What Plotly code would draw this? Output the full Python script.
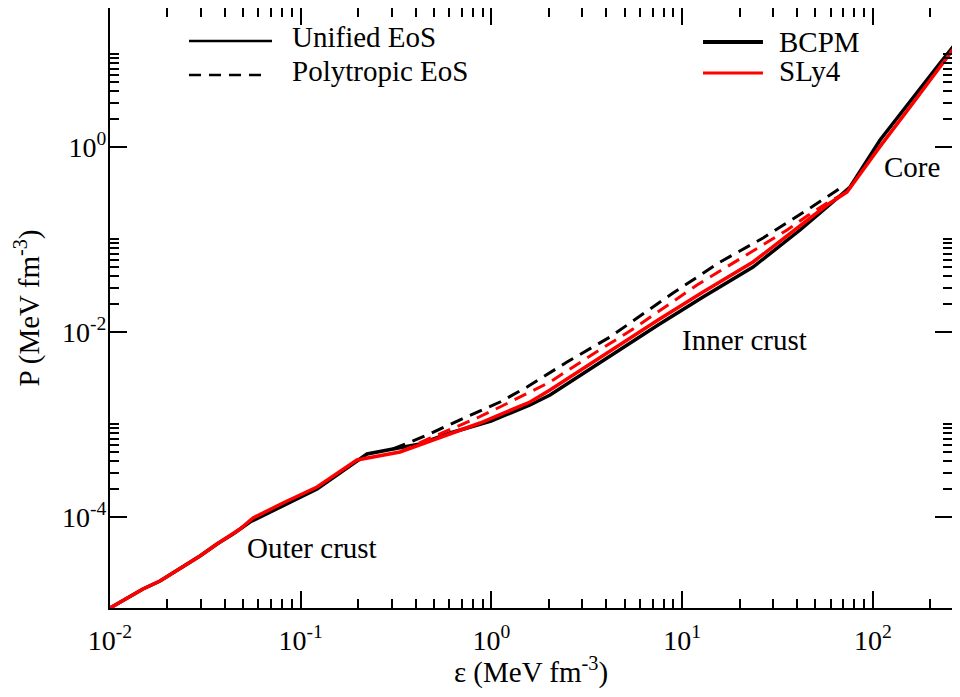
import plotly.graph_objects as go

# BCPM unified EoS (solid black)
eps_bcpm = [0.0100, 0.01489, 0.01829, 0.02963, 0.03640, 0.04416, 0.05421, 0.08074,
            0.1218, 0.1973, 0.2227, 0.3048, 0.4222, 0.6066, 0.9952, 1.594, 2.029,
            7.475, 12.87, 23.54, 41.53, 57.52, 75.94, 109.1, 162.5, 225.1, 286.6]
p_bcpm = [1.03e-5, 1.654e-5, 2.018e-5, 3.758e-5, 5.068e-5, 6.501e-5, 8.763e-5, 1.305e-4,
          1.993e-4, 4.001e-4, 4.763e-4, 5.393e-4, 6.107e-4, 8.034e-4, 1.083e-3, 1.613e-3,
          2.068e-3, 0.01181, 0.02372, 0.05005, 0.1257, 0.2229, 0.3666, 1.181, 3.446,
          8.03, 14.97]

# SLy4 unified EoS (solid red)
eps_sly4 = [0.0100, 0.01489, 0.01829, 0.02963, 0.03640, 0.04804, 0.05623, 0.08074,
            0.1218, 0.1973, 0.3317, 0.4941, 0.8713, 1.594, 2.029, 7.475, 12.87, 23.54,
            41.53, 57.52, 73.24, 109.1, 162.5, 225.1, 286.6]
p_sly4 = [1.03e-5, 1.654e-5, 2.018e-5, 3.758e-5, 5.068e-5, 7.362e-5, 9.680e-5, 1.406e-4,
          2.095e-4, 4.102e-4, 5.006e-4, 6.750e-4, 1.030e-3, 1.738e-3, 2.343e-3, 0.01338,
          0.02686, 0.05669, 0.1389, 0.2343, 0.3238, 1.008, 2.968, 7.271, 14.24]

# BCPM polytropic EoS (dashed black)
eps_bcpm_poly = [0.3048, 0.4595, 0.6290, 0.8406, 1.109, 1.537, 2.029, 2.491, 4.187,
                 8.960, 15.81, 26.56, 45.19, 71.49]
p_bcpm_poly = [5.393e-4, 7.640e-4, 1.030e-3, 1.354e-3, 1.738e-3, 2.525e-3, 3.577e-3,
               4.704e-3, 8.765e-3, 0.02620, 0.05669, 0.1030, 0.2069, 0.3854]

# SLy4 polytropic EoS (dashed red)
eps_sly4_poly = [0.3317, 0.4764, 0.8406, 1.109, 2.029, 3.289, 5.527, 8.960, 11.97,
                 20.86, 35.49, 45.19, 59.64, 73.24]
p_sly4_poly = [5.006e-4, 7.093e-4, 1.167e-3, 1.534e-3, 2.859e-3, 5.461e-3, 0.01070,
               0.02147, 0.03197, 0.06421, 0.1257, 0.1781, 0.2588, 0.3238]

x_major = [1e-2, 1e-1, 1e0, 1e1, 1e2]
x_major_text = ["10<sup>-2</sup>", "10<sup>-1</sup>", "10<sup>0</sup>",
                "10<sup>1</sup>", "10<sup>2</sup>"]
y_major = [1e-4, 1e-2, 1e0]
y_major_text = ["10<sup>-4</sup>", "10<sup>-2</sup>", "10<sup>0</sup>"]

x_minor = [k * d for d in x_major for k in range(2, 10)]
y_minor = [k * d for d in y_major for k in range(2, 11)]

FONT = "Liberation Serif"

# the page body has an 8px margin, so the figure is drawn 8px in from the corner
W, H = 944, 681

fig = go.Figure()

fig.add_trace(go.Scatter(x=eps_bcpm, y=p_bcpm, mode="lines",
                         line=dict(color="black", width=3.5)))
fig.add_trace(go.Scatter(x=eps_sly4, y=p_sly4, mode="lines",
                         line=dict(color="red", width=3.5)))
fig.add_trace(go.Scatter(x=eps_bcpm_poly, y=p_bcpm_poly, mode="lines",
                         line=dict(color="black", width=3, dash="13px,8px")))
fig.add_trace(go.Scatter(x=eps_sly4_poly, y=p_sly4_poly, mode="lines",
                         line=dict(color="red", width=3, dash="13px,8px")))

# legend drawn by hand so the sample lines have the original length
legend_lines = [
    dict(x0=0.0938, x1=0.1924, y=0.9450, color="black", width=2.5, dash="solid"),
    dict(x0=0.0938, x1=0.1841, y=0.8883, color="black", width=2.5, dash="12px,8px"),
    dict(x0=0.7043, x1=0.7755, y=0.9433, color="black", width=4, dash="solid"),
    dict(x0=0.7043, x1=0.7755, y=0.8917, color="red", width=3, dash="solid"),
]
for ln in legend_lines:
    fig.add_shape(type="line", xref="paper", yref="paper",
                  x0=ln["x0"], x1=ln["x1"], y0=ln["y"], y1=ln["y"],
                  line=dict(color=ln["color"], width=ln["width"], dash=ln["dash"]))

legend_texts = [
    ("Unified EoS", 0.2137, 0.9520),
    ("Polytropic EoS", 0.2137, 0.8950),
    ("BCPM", 0.7921, 0.9433),
    ("SLy4", 0.7921, 0.8950),
]
for txt, xp, yp in legend_texts:
    fig.add_annotation(text=txt, xref="paper", yref="paper", x=xp, y=yp,
                       xanchor="left", yanchor="middle", showarrow=False,
                       font=dict(family=FONT, size=29, color="black"))

# region labels (log10 coordinates on log axes)
region_labels = [
    ("Outer crust", -1.292, -4.338),
    ("Inner crust", 0.989, -2.090),
    ("Core", 2.048, -0.219),
]
for txt, xl, yl in region_labels:
    fig.add_annotation(text=txt, x=xl, y=yl, xanchor="left", yanchor="middle",
                       showarrow=False, font=dict(family=FONT, size=29, color="black"))

axis_common = dict(
    type="log",
    automargin=False,
    showgrid=False,
    zeroline=False,
    showline=True,
    linecolor="black",
    linewidth=2,
    mirror="allticks",
    ticks="inside",
    ticklen=17,
    tickwidth=1.5,
    tickcolor="black",
    tickmode="array",
    tickfont=dict(family=FONT, size=28, color="black"),
)

fig.update_xaxes(
    **axis_common,
    range=[-2, 2.415],
    tickvals=x_major,
    ticktext=x_major_text,
    ticklabelstandoff=6,
    minor=dict(tickmode="array", tickvals=x_minor, ticks="inside", ticklen=9,
               tickwidth=1.5, tickcolor="black"),
    title=dict(text="ε (MeV fm<sup>-3</sup>)", font=dict(family=FONT, size=29, color="black"),
               standoff=16),
)
fig.update_yaxes(
    **axis_common,
    range=[-4.987, 1.4995],
    tickvals=y_major,
    ticktext=y_major_text,
    ticklabelstandoff=-4,
    minor=dict(tickmode="array", tickvals=y_minor, ticks="inside", ticklen=9,
               tickwidth=1.5, tickcolor="black"),
    title=dict(text="P (MeV fm<sup>-3</sup>)", font=dict(family=FONT, size=29, color="black"),
               standoff=14),
)

fig.update_layout(
    width=W,
    height=H,
    margin=dict(l=102, r=0, t=0, b=81),
    paper_bgcolor="white",
    plot_bgcolor="white",
    showlegend=False,
    template="none",
    font=dict(family=FONT, color="black"),
)

fig.write_html("out.html")
